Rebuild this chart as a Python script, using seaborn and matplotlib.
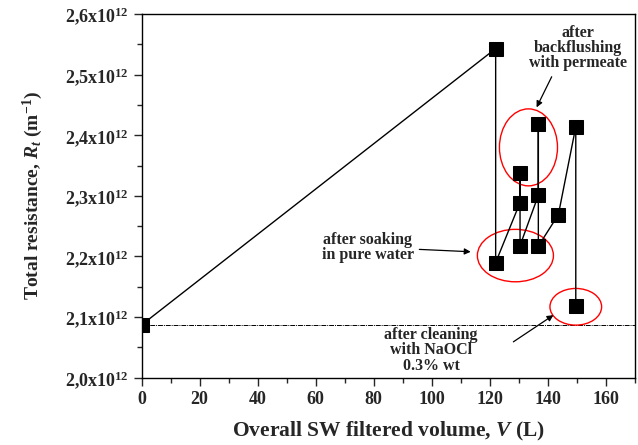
import matplotlib
matplotlib.use('Agg')
import matplotlib.pyplot as plt
import seaborn as sns
import pandas as pd
from matplotlib.patches import Ellipse
from matplotlib.ticker import MultipleLocator, FuncFormatter

# данные (R в единицах 1e12 m^-1)
volume = [0, 122.0, 122.0, 130.4, 130.4, 130.4, 136.7, 136.7, 136.7, 143.6, 149.6, 149.6]
resistance = [2.087, 2.543, 2.190, 2.289, 2.337, 2.218, 2.301, 2.418, 2.217, 2.269, 2.414, 2.119]
r_initial = 2.087

x_ticks = [0, 20, 40, 60, 80, 100, 120, 140, 160]

sns.set_style('ticks')
plt.rcParams['font.family'] = ['Liberation Serif', 'DejaVu Serif']
plt.rcParams['font.weight'] = 'bold'
plt.rcParams['mathtext.fontset'] = 'custom'
plt.rcParams['mathtext.rm'] = 'Liberation Serif:bold'
plt.rcParams['mathtext.it'] = 'Liberation Serif:italic:bold'
plt.rcParams['mathtext.bf'] = 'Liberation Serif:bold'

df = pd.DataFrame({'V': volume, 'R': resistance})

fig = plt.figure(figsize=(6.38, 4.45), dpi=100)
ax = fig.add_axes([0.2218, 0.1512, 0.7735, 0.8173])

ax.axhline(r_initial, color='black', lw=0.7, ls=(0, (5, 1, 1, 1)), zorder=1)

sns.lineplot(data=df, x='V', y='R', sort=False, estimator=None, color='black',
             lw=1.0, marker='s', markersize=9.5, markeredgecolor='black',
             markerfacecolor='black', ax=ax, zorder=3)

# красные эллипсы
for (cx, cy, w, h) in [(133.3, 2.380, 20.0, 0.127),
                       (128.8, 2.2015, 26.2, 0.0865),
                       (149.6, 2.117, 17.8, 0.0605)]:
    ax.add_patch(Ellipse((cx, cy), w, h, fill=False, edgecolor='red', lw=1.0, zorder=2))

ax.set_xlim(0, 170)
ax.set_ylim(2.0, 2.6)
ax.set_xticks(x_ticks)
ax.xaxis.set_minor_locator(MultipleLocator(10))
ax.yaxis.set_major_locator(MultipleLocator(0.1))
ax.yaxis.set_minor_locator(MultipleLocator(0.05))
ax.xaxis.set_major_formatter(FuncFormatter(lambda v, p: f'{v:.0f}'))
ax.yaxis.set_major_formatter(FuncFormatter(
    lambda v, p: (f'{v:.1f}'.replace('.', ',') + r'x10$^{\mathregular{12}}$')))

ax.tick_params(which='major', direction='out', length=6, width=1.0, labelsize=13)
ax.tick_params(which='minor', direction='out', length=3.5, width=1.0)
ax.tick_params(top=False, right=False)
for lab in ax.get_xticklabels() + ax.get_yticklabels():
    lab.set_fontweight('bold')
for s in ax.spines.values():
    s.set_linewidth(1.0)
    s.set_color('black')

ax.set_xlabel(r'Overall SW filtered volume, $V$ (L)', fontsize=15.5, fontweight='bold', labelpad=9)
ax.set_ylabel(r'Total resistance, $R_t$ (m$^{\mathregular{-1}}$)', fontsize=14,
              fontweight='bold', labelpad=14)

# подписи
txt = dict(ha='center', va='center', fontsize=11.5, fontweight='bold', linespacing=0.95)
ax.text(150.4, 2.544, 'after\nbackflushing\nwith permeate', **txt)
ax.text(77.9, 2.2147, 'after soaking\nin pure water', **txt)
ax.text(99.8, 2.045, 'after cleaning\nwith NaOCl\n0.3% wt', **txt)

# стрелки
arr = dict(arrowstyle='-|>', color='black', lw=0.9, mutation_scale=9, shrinkA=0, shrinkB=0)
ax.annotate('', xy=(136.1, 2.446), xytext=(141.3, 2.4965), arrowprops=arr)
ax.annotate('', xy=(113.4, 2.2078), xytext=(95.7, 2.2117), arrowprops=arr)
ax.annotate('', xy=(141.9, 2.1033), xytext=(128.1, 2.0592), arrowprops=arr)

fig.savefig('out.png', dpi=100)
